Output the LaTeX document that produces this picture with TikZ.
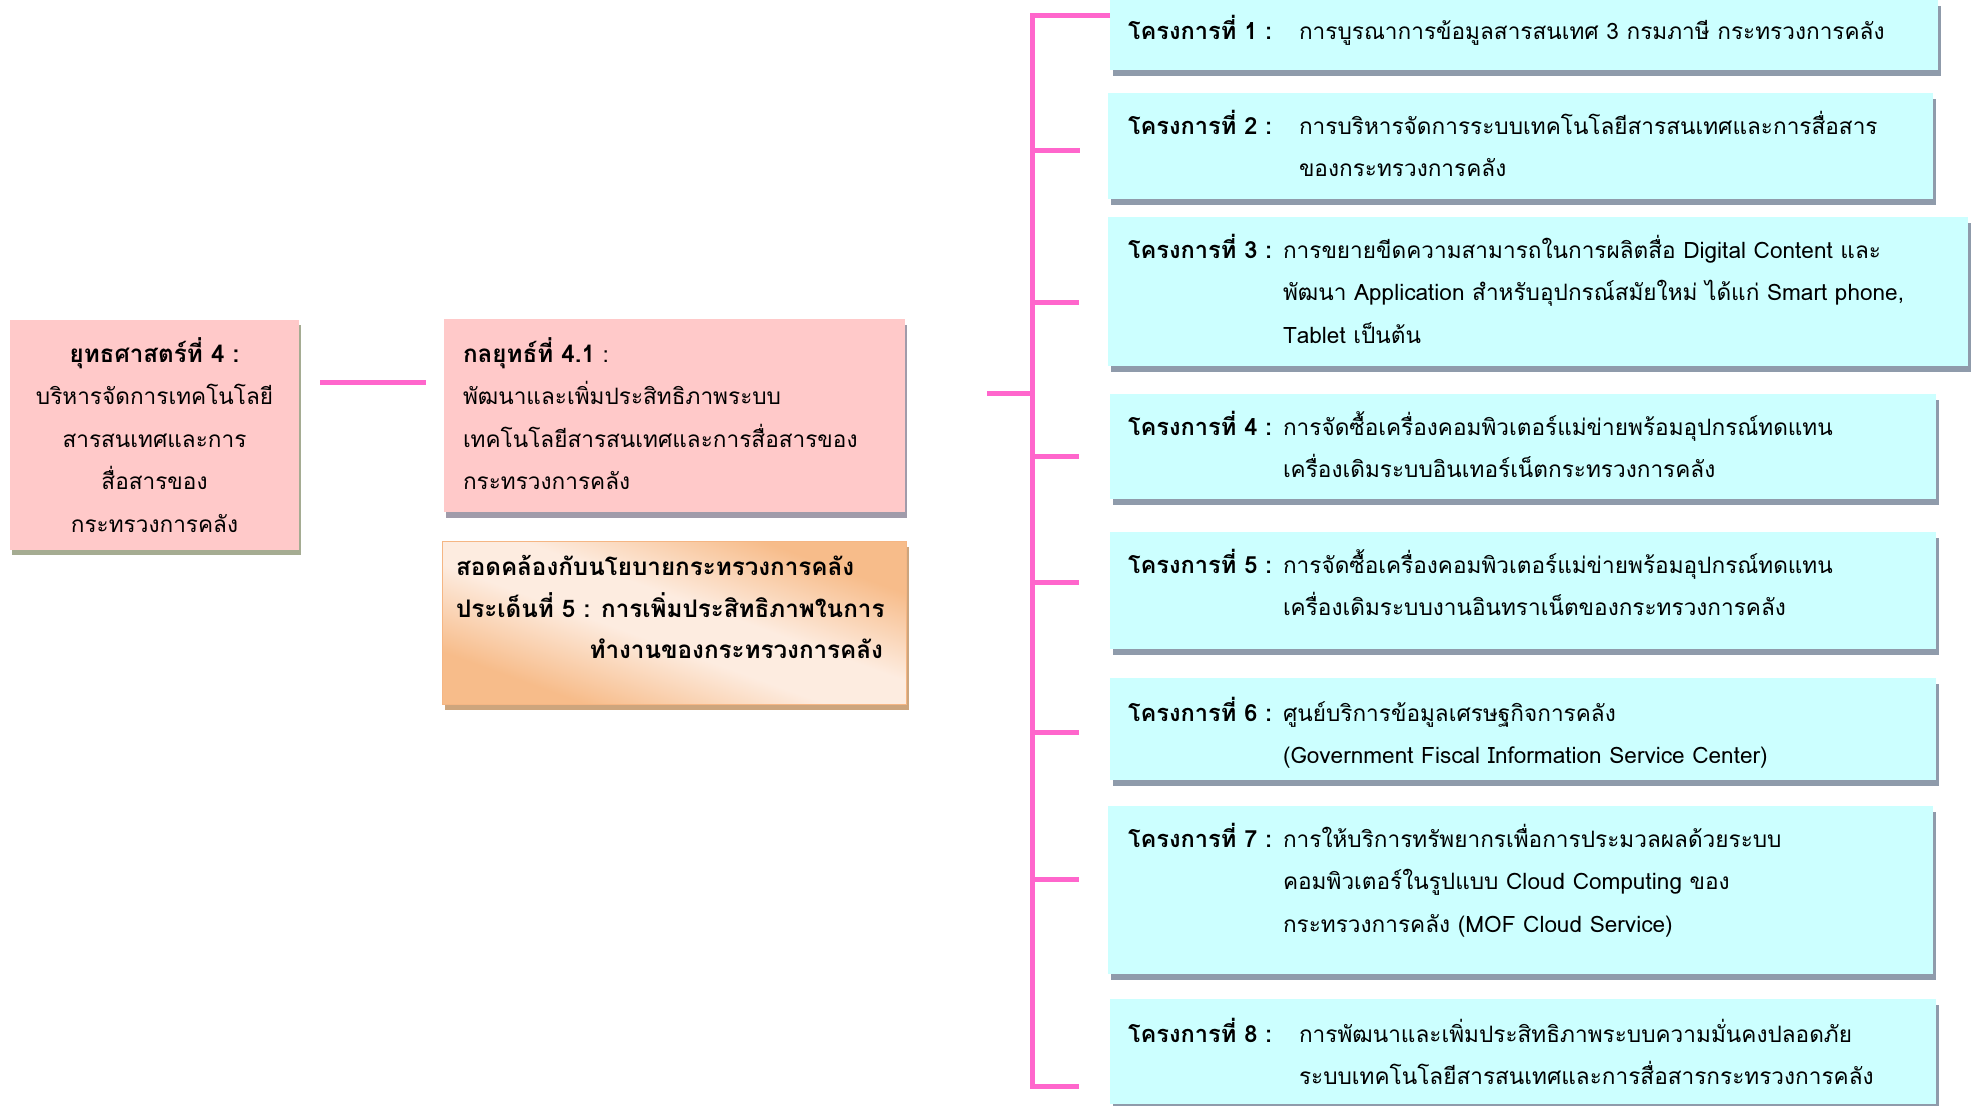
\documentclass[tikz,border=0pt]{standalone}
\usepackage{fontspec}
\setmainfont{Loma}[Script=Thai]
\usetikzlibrary{fit,shadows}
\definecolor{linkC}{HTML}{FF66CC}
\definecolor{pinkC}{HTML}{FFC9C9}
\definecolor{cyanC}{HTML}{CCFFFF}
\definecolor{shL}{RGB}{165,172,146}
\definecolor{shS}{RGB}{160,155,170}
\definecolor{shP}{RGB}{143,155,171}
\definecolor{orD}{RGB}{247,188,138}
\definecolor{orL}{RGB}{253,236,224}
\definecolor{orB}{RGB}{245,182,132}
\definecolor{shO}{RGB}{205,165,125}
\pgfdeclarehorizontalshading{orangeshade}{100bp}{color(0bp)=(orD); color(28bp)=(orD); color(45bp)=(orL); color(55bp)=(orL); color(72bp)=(orD); color(100bp)=(orD)}
\newcommand\fl{\rule{0pt}{30pt}}
\newcommand\regf{\fontsize{22.6}{42.5}\selectfont}
\newcommand\bldf{\fontsize{24.2}{42.5}\selectfont\bfseries}
\newcommand\tagf{\fontsize{23.6}{42.5}\selectfont\bfseries}
\tikzset{
  conn/.style={draw=linkC, line width=5pt},
  boxbase/.style={inner sep=0pt, outer sep=0pt},
  lbox/.style={boxbase, fill=pinkC, general shadow={shadow xshift=2pt, shadow yshift=-5pt, fill=shL}},
  sbox/.style={boxbase, fill=pinkC, general shadow={shadow xshift=2pt, shadow yshift=-6pt, fill=shS}},
  obox/.style={boxbase, draw=orB, line width=1pt, shading=orangeshade, shading angle=70,
     general shadow={shadow xshift=3pt, shadow yshift=-6pt, fill=shO}},
  pbox/.style={boxbase, fill=cyanC, general shadow={shadow xshift=3pt, shadow yshift=-6pt, fill=shP}},
  txt/.style={inner sep=0pt, outer sep=0pt, font=\regf, text=black},
  ptag/.style={txt, font=\tagf, anchor=base west},
  pdesc/.style={txt, anchor=north west, align=left},
}
\begin{document}
\begin{tikzpicture}[x=1pt,y=-1pt]
\useasboundingbox (0,0) rectangle (1971,1106);

% left boxes
\node[lbox, fit={(10,320) (299,550)}] (L) {};
\node[txt, anchor=north, align=center] (Lt) at (154.5,332) {\fl{\bldf ยุทธศาสตร์ที่ 4 :}\\บริหารจัดการเทคโนโลยี\\สารสนเทศและการ\\สื่อสารของ\\กระทรวงการคลัง};

\node[sbox, fit={(444,319) (905,512)}] (S) {};
\node[pdesc] (St) at (463,332) {\fl{\bldf กลยุทธ์ที่ 4.1} :\\พัฒนาและเพิ่มประสิทธิภาพระบบ\\เทคโนโลยีสารสนเทศและการสื่อสารของ\\กระทรวงการคลัง};

\node[obox, fit={(442,541) (906,704)}] (O) {};
\node[pdesc, font=\bldf] (Ot) at (456,545) {\fl สอดคล้องกับนโยบายกระทรวงการคลัง\\ประเด็นที่ 5 : การเพิ่มประสิทธิภาพในการ};
\node[txt, font=\bldf, anchor=base east] (Ot2) at (883,658) {ทำงานของกระทรวงการคลัง};

% project boxes
\node[pbox, fit={(1110,0) (1938,70)}] (P1) {};
\node[pbox, fit={(1108,93) (1933,199)}] (P2) {};
\node[pbox, fit={(1108,217) (1968,366)}] (P3) {};
\node[pbox, fit={(1110,394) (1936,499)}] (P4) {};
\node[pbox, fit={(1110,532) (1936,649)}] (P5) {};
\node[pbox, fit={(1110,678) (1936,780)}] (P6) {};
\node[pbox, fit={(1108,806) (1933,974)}] (P7) {};
\node[pbox, fit={(1110,999) (1936,1104)}] (P8) {};

\node[ptag] (T1) at (1128,39) {โครงการที่ 1 :};
\node[pdesc] (D1) at (1299,9) {\fl การบูรณาการข้อมูลสารสนเทศ 3 กรมภาษี กระทรวงการคลัง};
\node[ptag] (T2) at (1128,134) {โครงการที่ 2 :};
\node[pdesc] (D2) at (1299,104) {\fl การบริหารจัดการระบบเทคโนโลยีสารสนเทศและการสื่อสาร\\ของกระทรวงการคลัง};
\node[ptag] (T3) at (1128,258) {โครงการที่ 3 :};
\node[pdesc] (D3) at (1283,228) {\fl การขยายขีดความสามารถในการผลิตสื่อ Digital Content และ\\พัฒนา Application สำหรับอุปกรณ์สมัยใหม่ ได้แก่ Smart phone,\\Tablet เป็นต้น};
\node[ptag] (T4) at (1128,435) {โครงการที่ 4 :};
\node[pdesc] (D4) at (1283,405) {\fl การจัดซื้อเครื่องคอมพิวเตอร์แม่ข่ายพร้อมอุปกรณ์ทดแทน\\เครื่องเดิมระบบอินเทอร์เน็ตกระทรวงการคลัง};
\node[ptag] (T5) at (1128,573) {โครงการที่ 5 :};
\node[pdesc] (D5) at (1283,543) {\fl การจัดซื้อเครื่องคอมพิวเตอร์แม่ข่ายพร้อมอุปกรณ์ทดแทน\\เครื่องเดิมระบบงานอินทราเน็ตของกระทรวงการคลัง};
\node[ptag] (T6) at (1128,721) {โครงการที่ 6 :};
\node[pdesc] (D6) at (1283,691) {\fl ศูนย์บริการข้อมูลเศรษฐกิจการคลัง\\(Government Fiscal Information Service Center)};
\node[ptag] (T7) at (1128,847) {โครงการที่ 7 :};
\node[pdesc] (D7) at (1283,817) {\fl การให้บริการทรัพยากรเพื่อการประมวลผลด้วยระบบ\\คอมพิวเตอร์ในรูปแบบ Cloud Computing ของ\\กระทรวงการคลัง (MOF Cloud Service)};
\node[ptag] (T8) at (1128,1042) {โครงการที่ 8 :};
\node[pdesc] (D8) at (1299,1012) {\fl การพัฒนาและเพิ่มประสิทธิภาพระบบความมั่นคงปลอดภัย\\ระบบเทคโนโลยีสารสนเทศและการสื่อสารกระทรวงการคลัง};

% connectors
\coordinate (busTop) at (1032,15);
\coordinate (busBot) at (1032,1086);
\coordinate (busMid) at (1032,393);
\draw[conn, shorten <=21pt, shorten >=18pt] (L.east |- 0,382) -- (S.west |- 0,382);
\draw[conn, shorten <=82pt] (S.east |- busMid) -- (busMid);
\draw[conn, shorten >=31pt] (P1.west |- busTop) -- (busTop) -- (busBot) -- (P8.west |- busBot);
\draw[conn, shorten >=28pt] (busTop |- 0,150) -- (P2.west |- 0,150);
\draw[conn, shorten >=29pt] (busTop |- 0,302) -- (P3.west |- 0,302);
\draw[conn, shorten >=31pt] (busTop |- 0,456) -- (P4.west |- 0,456);
\draw[conn, shorten >=31pt] (busTop |- 0,582) -- (P5.west |- 0,582);
\draw[conn, shorten >=31pt] (busTop |- 0,732) -- (P6.west |- 0,732);
\draw[conn, shorten >=29pt] (busTop |- 0,879) -- (P7.west |- 0,879);
\end{tikzpicture}
\end{document}
